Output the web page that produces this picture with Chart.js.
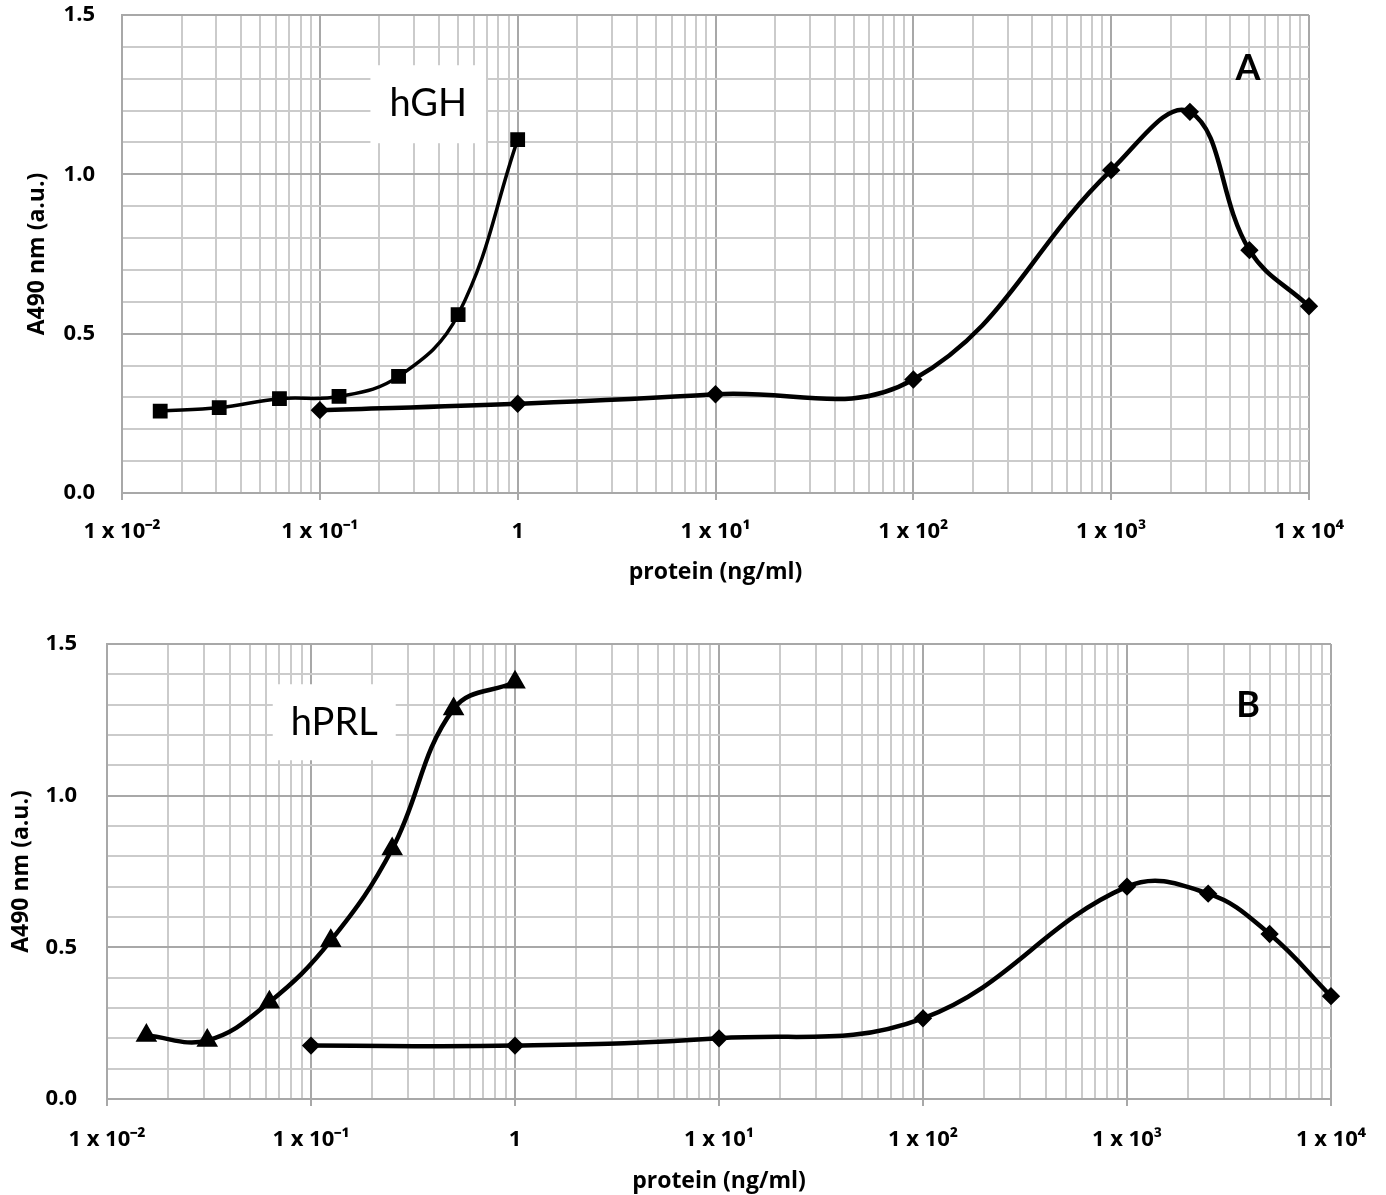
<!DOCTYPE html>
<html>
<head>
<meta charset="utf-8">
<script src="https://cdn.jsdelivr.net/npm/chart.js@4.4.1/dist/chart.umd.min.js"></script>
<style>
  body { margin: 0; background: #fff; }
  #wrapA { position: absolute; left: 0; top: 0; width: 1386px; height: 600px; }
  #wrapB { position: absolute; left: 0; top: 600px; width: 1386px; height: 595px; }
</style>
</head>
<body>
<div id="wrapA"><canvas id="chartA" width="1386" height="600"></canvas></div>
<div id="wrapB"><canvas id="chartB" width="1386" height="595"></canvas></div>
<script>
// Panel A - hGH
const hghConc = [0.0156, 0.031, 0.0625, 0.125, 0.25, 0.5, 1];
const hghA490 = [0.257, 0.268, 0.296, 0.303, 0.366, 0.56, 1.109];
const sampleConcA = [0.1, 1, 10, 100, 1000, 2500, 5000, 10000];
const sampleA490A = [0.26, 0.28, 0.31, 0.356, 1.013, 1.196, 0.762, 0.586];

// Panel B - hPRL
const hprlConc = [0.0156, 0.031, 0.0625, 0.125, 0.25, 0.5, 1];
const hprlA490 = [0.209, 0.193, 0.319, 0.522, 0.824, 1.286, 1.374];
const sampleConcB = [0.1, 1, 10, 100, 1000, 2500, 5000, 10000];
const sampleA490B = [0.176, 0.176, 0.2, 0.266, 0.70, 0.677, 0.544, 0.339];

// axis ticks
const decadeValues = [0.01, 0.1, 1, 10, 100, 1000, 10000];
const decadeLabels = ['1 x 10\u207B\u00B2', '1 x 10\u207B\u00B9', '1', '1 x 10\u00B9', '1 x 10\u00B2', '1 x 10\u00B3', '1 x 10\u2074'];
const yLabelledTicks = [0, 0.5, 1.0, 1.5];

Chart.defaults.font.family = "'Open Sans'";
Chart.defaults.color = '#000';

function toXY(xs, ys) {
  return xs.map(function (v, i) { return { x: v, y: ys[i] }; });
}

function decadeIndex(v) {
  for (var i = 0; i < decadeValues.length; i++) {
    if (Math.abs(Math.log10(v) - Math.log10(decadeValues[i])) < 1e-9) return i;
  }
  return -1;
}

function isHalfStep(v) {
  return yLabelledTicks.some(function (t) { return Math.abs(t - v) < 1e-6; });
}

// white box with the protein name + panel letter
const panelText = {
  id: 'panelText',
  beforeDatasetsDraw(chart, args, opts) {
    const ctx = chart.ctx;
    const xs = chart.scales.x, ys = chart.scales.y;
    ctx.save();
    ctx.font = '38px Lato';
    ctx.textAlign = 'center';
    ctx.textBaseline = 'middle';
    const px = xs.getPixelForValue(opts.nameAt[0]);
    const py = ys.getPixelForValue(opts.nameAt[1]);
    const w = ctx.measureText(opts.name).width + opts.boxPad[0] * 2;
    ctx.fillStyle = '#fff';
    ctx.fillRect(px - w / 2, py - opts.boxPad[1], w, opts.boxPad[1] * 2);
    ctx.fillStyle = '#000';
    ctx.fillText(opts.name, px, py);
    ctx.font = 'bold 36px Lato';
    ctx.fillText(opts.letter, xs.getPixelForValue(opts.letterAt[0]), ys.getPixelForValue(opts.letterAt[1]));
    ctx.restore();
  }
};

function makeConfig(p) {
  return {
    type: 'line',
    data: {
      datasets: [
        {
          label: p.stdName,
          data: toXY(p.stdX, p.stdY),
          borderColor: '#000',
          backgroundColor: '#000',
          borderWidth: p.stdWidth,
          pointStyle: p.stdPoint,
          pointRadius: p.stdRadius,
          pointBackgroundColor: '#000',
          pointBorderColor: '#000',
          tension: 0.4,
          clip: false
        },
        {
          label: 'sample',
          data: toXY(p.smpX, p.smpY),
          borderColor: '#000',
          backgroundColor: '#000',
          borderWidth: 4.5,
          pointStyle: 'rectRot',
          pointRadius: 6,
          pointBackgroundColor: '#000',
          pointBorderColor: '#000',
          tension: 0.4,
          clip: false
        }
      ]
    },
    options: {
      responsive: false,
      animation: false,
      layout: { padding: p.padding },
      plugins: {
        legend: { display: false },
        tooltip: { enabled: false },
        panelText: p.text
      },
      scales: {
        x: {
          type: 'logarithmic',
          min: 0.01,
          max: 10000,
          afterBuildTicks: function (scale) {
            const ticks = [];
            for (var d = 0; d < decadeValues.length - 1; d++) {
              for (var m = 1; m <= 9; m++) ticks.push({ value: m * decadeValues[d] });
            }
            ticks.push({ value: decadeValues[decadeValues.length - 1] });
            scale.ticks = ticks;
          },
          afterFit: function (scale) {
            scale.height = p.xAxisHeight;
            scale.paddingLeft = 0;
            scale.paddingRight = 0;
          },
          ticks: {
            autoSkip: false,
            maxRotation: 0,
            padding: p.xTickPad,
            font: { size: 22, weight: 'bold' },
            callback: function (v) {
              const i = decadeIndex(v);
              return i >= 0 ? decadeLabels[i] : '';
            }
          },
          grid: {
            color: function (c) { return decadeIndex(c.tick.value) >= 0 ? '#a8a8a8' : '#cbcbcb'; },
            tickColor: function (c) { return decadeIndex(c.tick.value) >= 0 ? '#a8a8a8' : 'rgba(0,0,0,0)'; },
            tickLength: 7,
            lineWidth: 2
          },
          border: { color: '#a8a8a8', width: 2 },
          title: {
            display: true,
            text: 'protein (ng/ml)',
            font: { size: 23, weight: 'bold' },
            padding: { top: 0, bottom: p.xTitlePad }
          }
        },
        y: {
          min: 0,
          max: 1.5,
          afterFit: function (scale) {
            scale.width = p.yAxisWidth;
            scale.paddingTop = 0;
            scale.paddingBottom = 0;
          },
          ticks: {
            stepSize: 0.1,
            autoSkip: false,
            padding: p.yTickPad,
            font: { size: 22, weight: 'bold' },
            callback: function (v) { return isHalfStep(v) ? v.toFixed(1) : ''; }
          },
          grid: {
            color: function (c) { return isHalfStep(c.tick.value) ? '#a8a8a8' : '#cbcbcb'; },
            drawTicks: false,
            lineWidth: 2
          },
          border: { color: '#a8a8a8', width: 2 },
          title: {
            display: true,
            text: 'A490 nm (a.u.)',
            font: { size: 23, weight: 'bold' },
            padding: { top: p.yTitlePad, bottom: 0 }
          }
        }
      }
    },
    plugins: [panelText]
  };
}

new Chart(document.getElementById('chartA'), makeConfig({
  stdName: 'hGH', stdX: hghConc, stdY: hghA490,
  stdWidth: 3.5, stdPoint: 'rect', stdRadius: 8,
  smpX: sampleConcA, smpY: sampleA490A,
  padding: { left: 0, right: 77, top: 15, bottom: 0 },
  xAxisHeight: 107, xTickPad: 19, xTitlePad: 14,
  yAxisWidth: 122, yTickPad: 27, yTitlePad: 24,
  text: { name: 'hGH', nameAt: [0.353, 1.22], boxPad: [19, 39], letter: 'A', letterAt: [4920, 1.333] }
}));

new Chart(document.getElementById('chartB'), makeConfig({
  stdName: 'hPRL', stdX: hprlConc, stdY: hprlA490,
  stdWidth: 4.5, stdPoint: 'triangle', stdRadius: 8,
  smpX: sampleConcB, smpY: sampleA490B,
  padding: { left: 0, right: 55, top: 44, bottom: 0 },
  xAxisHeight: 96, xTickPad: 21, xTitlePad: 0,
  yAxisWidth: 107, yTickPad: 30, yTitlePad: 8,
  text: { name: 'hPRL', nameAt: [0.130, 1.242], boxPad: [18, 38], letter: 'B', letterAt: [3920, 1.298] }
}));
</script>
</body>
</html>
